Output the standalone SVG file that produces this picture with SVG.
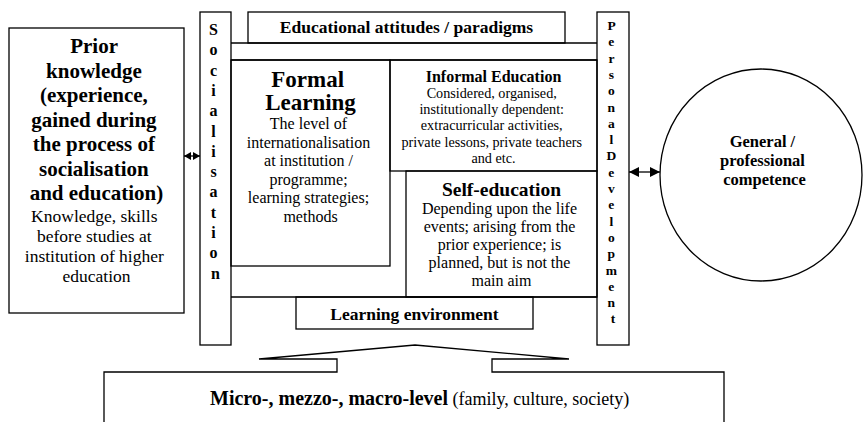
<svg xmlns="http://www.w3.org/2000/svg" width="863" height="422" viewBox="0 0 863 422">
<style>
.box{fill:none;stroke:#000;stroke-width:1.3}
.ln{fill:none;stroke:#000;stroke-width:1.3}
text{font-family:"Liberation Serif","Times New Roman",serif;fill:#000}
.b{font-weight:bold}
.m{text-anchor:middle}
</style>
<defs>
<marker id="ahS" markerUnits="userSpaceOnUse" markerWidth="8" markerHeight="8" refX="7" refY="4" orient="auto-start-reverse">
<path d="M0,0 L7,4 L0,8 Z" fill="#000"/>
</marker>
<marker id="ahL" markerUnits="userSpaceOnUse" markerWidth="11" markerHeight="10" refX="10" refY="5" orient="auto-start-reverse">
<path d="M0,0 L10,5 L0,10 Z" fill="#000"/>
</marker>
</defs>

<g id="prior-knowledge">
<rect class="box" x="9" y="28" width="175" height="285"/>
<text class="b m" x="96.5" font-size="21">
<tspan x="96.5" y="53">Prior</tspan>
<tspan x="96.5" y="77.5">knowledge</tspan>
<tspan x="96.5" y="102">(experience,</tspan>
<tspan x="96.5" y="126.5">gained during</tspan>
<tspan x="96.5" y="151">the process of</tspan>
<tspan x="96.5" y="175.5">socialisation</tspan>
<tspan x="96.5" y="200">and education)</tspan>
</text>
<text class="m" font-size="17.5">
<tspan x="96.5" y="222">Knowledge, skills</tspan>
<tspan x="96.5" y="242">before studies at</tspan>
<tspan x="96.5" y="262">institution of higher</tspan>
<tspan x="96.5" y="282">education</tspan>
</text>
</g>

<g id="socialisation">
<rect class="box" x="200" y="12" width="31" height="333"/>
<text class="b m" font-size="16">
<tspan x="215.5" y="35">S</tspan>
<tspan x="215.5" y="55.3">o</tspan>
<tspan x="215.5" y="75.6">c</tspan>
<tspan x="215.5" y="95.9">i</tspan>
<tspan x="215.5" y="116.2">a</tspan>
<tspan x="215.5" y="136.5">l</tspan>
<tspan x="215.5" y="156.8">i</tspan>
<tspan x="215.5" y="177.1">s</tspan>
<tspan x="215.5" y="197.4">a</tspan>
<tspan x="215.5" y="217.7">t</tspan>
<tspan x="215.5" y="238">i</tspan>
<tspan x="215.5" y="258.3">o</tspan>
<tspan x="215.5" y="278.6">n</tspan>
</text>
</g>

<g id="educational-attitudes">
<rect class="box" x="248" y="12" width="317" height="31"/>
<text class="b m" x="406.5" y="33" font-size="17.5">Educational attitudes / paradigms</text>
</g>

<g id="frame">
<line class="ln" x1="231" y1="43" x2="597" y2="43"/>
<line class="ln" x1="231" y1="60" x2="597" y2="60"/>
<line class="ln" x1="231" y1="297" x2="597" y2="297"/>
</g>

<g id="formal-learning">
<rect class="box" x="231" y="60" width="159" height="206"/>
<text class="b m" font-size="23">
<tspan x="310.5" y="87">Formal</tspan>
<tspan x="310.5" y="110">Learning</tspan>
</text>
<text class="m" font-size="16">
<tspan x="310.5" y="129">The level of</tspan>
<tspan x="310.5" y="147.5">internationalisation</tspan>
<tspan x="310.5" y="166">at institution /</tspan>
<tspan x="310.5" y="184.5">programme;</tspan>
<tspan x="310.5" y="203">learning strategies;</tspan>
<tspan x="310.5" y="221.5">methods</tspan>
</text>
</g>

<g id="informal-education">
<rect class="box" x="390" y="60" width="207" height="111"/>
<text class="b m" x="493.5" y="82" font-size="16">Informal Education</text>
<text class="m" font-size="14.2">
<tspan x="493.5" y="98">Considered, organised,</tspan>
<tspan x="493.5" y="114">institutionally dependent:</tspan>
<tspan x="493.5" y="130">extracurricular activities,</tspan>
<tspan x="493.5" y="146.5">private lessons, private teachers</tspan>
<tspan x="493.5" y="162.5">and etc.</tspan>
</text>
</g>

<g id="self-education">
<rect class="box" x="406" y="171" width="191" height="126"/>
<text class="b m" x="501.5" y="196" font-size="19.5">Self-education</text>
<text class="m" font-size="16">
<tspan x="501.5" y="214">Depending upon the life</tspan>
<tspan x="501.5" y="232">events; arising from the</tspan>
<tspan x="501.5" y="250">prior experience; is</tspan>
<tspan x="501.5" y="268">planned, but is not the</tspan>
<tspan x="501.5" y="286">main aim</tspan>
</text>
</g>

<g id="learning-environment">
<rect class="box" x="296" y="297" width="237" height="32"/>
<text class="b m" x="414.5" y="320" font-size="17.5">Learning environment</text>
</g>

<g id="personal-development">
<rect class="box" x="597" y="12" width="32" height="333"/>
<text class="b m" font-size="13.5">
<tspan x="613" y="30">P</tspan>
<tspan x="613" y="46.3">e</tspan>
<tspan x="613" y="62.6">r</tspan>
<tspan x="613" y="78.9">s</tspan>
<tspan x="613" y="95.2">o</tspan>
<tspan x="613" y="111.5">n</tspan>
<tspan x="613" y="127.8">a</tspan>
<tspan x="613" y="144.1">l</tspan>
<tspan x="613" y="160.4">D</tspan>
<tspan x="613" y="176.7">e</tspan>
<tspan x="613" y="193">v</tspan>
<tspan x="613" y="209.3">e</tspan>
<tspan x="613" y="225.6">l</tspan>
<tspan x="613" y="241.9">o</tspan>
<tspan x="613" y="258.2">p</tspan>
<tspan x="613" y="274.5">m</tspan>
<tspan x="613" y="290.8">e</tspan>
<tspan x="613" y="307.1">n</tspan>
<tspan x="613" y="323.4">t</tspan>
</text>
</g>

<g id="competence">
<ellipse class="box" cx="761" cy="175" rx="101" ry="106"/>
<text class="b m" font-size="16.5">
<tspan x="764.5" y="147">General /</tspan>
<tspan x="764.5" y="166">professional</tspan>
<tspan x="764.5" y="185">competence</tspan>
</text>
</g>

<g id="context-levels">
<path class="ln" d="M104,430 L104,372 L337,372 L337,359 L259,359 L415,345 L569,359 L492,359 L492,372 L724,372 L724,430"/>
<text x="210" y="405" font-size="20"><tspan class="b">Micro-, mezzo-, macro-level</tspan><tspan font-size="18"> (family, culture, society)</tspan></text>
</g>

<g id="connectors">
<line class="ln" x1="184" y1="156" x2="200" y2="156" marker-start="url(#ahS)" marker-end="url(#ahS)"/>
<line class="ln" x1="629" y1="172" x2="660" y2="172" marker-start="url(#ahL)" marker-end="url(#ahL)"/>
</g>
</svg>
